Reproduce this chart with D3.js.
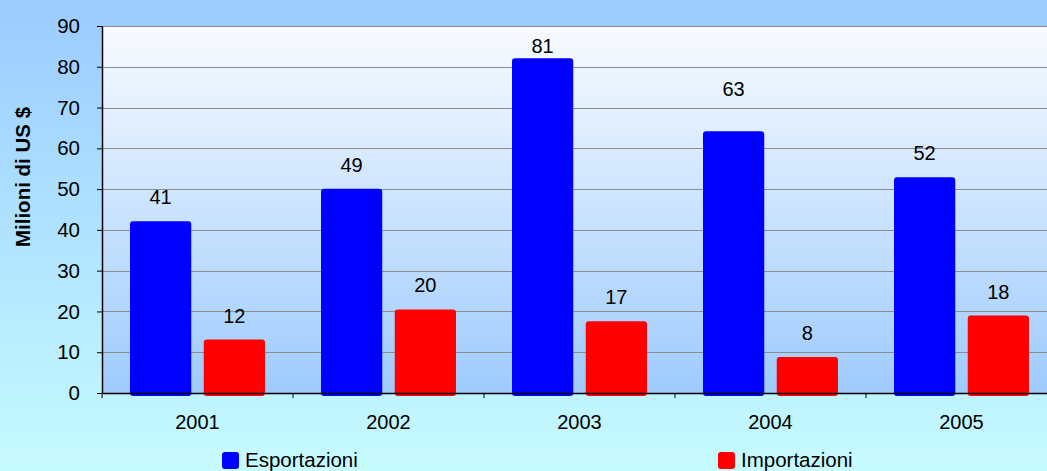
<!DOCTYPE html>
<html>
<head>
<meta charset="utf-8">
<script src="https://cdn.jsdelivr.net/npm/d3@7"></script>
<style>
  body { margin: 0; padding: 0; overflow: hidden; }
  svg { display: block; font-family: "Liberation Sans", Arial, sans-serif; }
</style>
</head>
<body>
<div id="chart"></div>
<script>
// data
var anni = ['2001', '2002', '2003', '2004', '2005'];
var esportazioni = [42.1, 50.1, 82.1, 64.2, 52.9];
var importazioni = [13.1, 20.5, 17.6, 8.8, 19.0];
// printed data labels
var etichetteEsp = ['41', '49', '81', '63', '52'];
var etichetteImp = ['12', '20', '17', '8', '18'];
var yTicks = [0, 10, 20, 30, 40, 50, 60, 70, 80, 90];
var serie = ['Esportazioni', 'Importazioni'];
var colori = ['#0000ff', '#ff0000'];

var width = 1047, height = 471;
var margin = {top: 26, left: 102, bottom: 78};
var plot_w = 955,
    plot_h = height - margin.top - margin.bottom;

var svg = d3.select('#chart').append('svg')
    .attr('width', width)
    .attr('height', height);

var defs = svg.append('defs');
var bgGrad = defs.append('linearGradient').attr('id', 'bg')
    .attr('x1', 0).attr('y1', 0).attr('x2', 0).attr('y2', 1);
bgGrad.append('stop').attr('offset', '0%').attr('stop-color', '#9bcbff');
bgGrad.append('stop').attr('offset', '100%').attr('stop-color', '#c6fbff');

var plotGrad = defs.append('linearGradient').attr('id', 'plotbg')
    .attr('x1', 0).attr('y1', 0).attr('x2', 0).attr('y2', 1);
plotGrad.append('stop').attr('offset', '0%').attr('stop-color', '#f8fbff');
plotGrad.append('stop').attr('offset', '100%').attr('stop-color', '#9ecbfd');

svg.append('rect')
    .attr('width', width).attr('height', height)
    .attr('fill', 'url(#bg)');

var chart = svg.append('g')
    .attr('transform', 'translate(' + margin.left + ',' + margin.top + ')');

var xScale = d3.scaleBand()
    .range([0, plot_w])
    .domain(anni);

var half = xScale.bandwidth() / 2;
var xInner = d3.scaleBand()
    .domain(serie)
    .range([half - 67.5, half + 67.5])
    .paddingInner(12.5 / 73.8);

var yScale = d3.scaleLinear()
    .range([plot_h, 0])
    .domain([0, 90]);

chart.append('rect')
    .attr('width', plot_w).attr('height', plot_h)
    .attr('fill', 'url(#plotbg)');

// grid
chart.append('g')
    .selectAll('line')
    .data(yTicks.filter(function(t) { return t > 0; }))
    .enter().append('line')
    .attr('x1', 0).attr('x2', plot_w)
    .attr('y1', function(t) { return Math.round(yScale(t)) + 0.5; })
    .attr('y2', function(t) { return Math.round(yScale(t)) + 0.5; })
    .attr('stroke', '#8c8c8c')
    .attr('stroke-width', 1);

// bars
var dati = anni.map(function(a, i) {
  return {anno: a, valori: [
    {anno: a, serie: serie[0], v: esportazioni[i], lab: etichetteEsp[i]},
    {anno: a, serie: serie[1], v: importazioni[i], lab: etichetteImp[i]}
  ]};
});

var groups = chart.selectAll('.anno')
    .data(dati)
    .enter().append('g')
    .attr('class', 'anno')
    .attr('transform', function(d) { return 'translate(' + xScale(d.anno) + ',0)'; });

groups.selectAll('rect')
    .data(function(d) { return d.valori; })
    .enter().append('rect')
    .attr('x', function(d) { return xInner(d.serie); })
    .attr('width', xInner.bandwidth())
    .attr('y', function(d) { return yScale(d.v); })
    .attr('height', function(d) { return plot_h - yScale(d.v) + 3; })
    .attr('rx', 3)
    .attr('fill', function(d, i) { return colori[i]; });

// value labels (63 and 81 sit a bit differently in the original)
var nudge = {'2004': -18, '2003': 12};
groups.selectAll('text')
    .data(function(d) { return d.valori; })
    .enter().append('text')
    .attr('x', function(d) { return xInner(d.serie) + xInner.bandwidth() / 2; })
    .attr('y', function(d) {
      var extra = d.serie === serie[0] && nudge[d.anno] ? nudge[d.anno] : 0;
      return yScale(d.v) - 17 + extra;
    })
    .attr('text-anchor', 'middle')
    .attr('font-size', '20px')
    .attr('fill', '#000')
    .text(function(d) { return d.lab; });

// plot top border
chart.append('line')
    .attr('x1', 0).attr('x2', plot_w)
    .attr('y1', 0.5).attr('y2', 0.5)
    .attr('stroke', '#8c8c8c');

// y axis
var yAxis = chart.append('g')
    .call(d3.axisLeft(yScale).tickValues(yTicks).tickSize(5).tickSizeOuter(0).tickPadding(17));
yAxis.select('.domain').attr('stroke', '#000').attr('stroke-width', 1.5);
yAxis.selectAll('.tick line').attr('stroke', '#000');
yAxis.selectAll('.tick text')
    .attr('font-size', '20.5px')
    .attr('font-family', '"Liberation Sans", Arial, sans-serif')
    .attr('fill', '#000');

// x axis
var xAxis = chart.append('g')
    .attr('transform', 'translate(0,' + plot_h + ')')
    .call(d3.axisBottom(xScale).tickSize(0).tickPadding(22));
xAxis.select('.domain').attr('stroke', '#000').attr('stroke-width', 1.5);
xAxis.selectAll('.tick text')
    .attr('font-size', '20px')
    .attr('font-family', '"Liberation Sans", Arial, sans-serif')
    .attr('fill', '#000');
xAxis.selectAll('.sep')
    .data(anni)
    .enter().append('line')
    .attr('class', 'sep')
    .attr('x1', function(a) { return xScale(a); })
    .attr('x2', function(a) { return xScale(a); })
    .attr('y1', 0).attr('y2', 5)
    .attr('stroke', '#000');

// y title
svg.append('text')
    .attr('transform', 'translate(30,' + 177 + ') rotate(-90)')
    .attr('text-anchor', 'middle')
    .attr('font-size', '20.5px')
    .attr('font-weight', 'bold')
    .attr('fill', '#000')
    .text('Milioni di US $');

// legend
var legendX = [222, 718];
var legend = svg.selectAll('.legend')
    .data(serie)
    .enter().append('g')
    .attr('class', 'legend')
    .attr('transform', function(d, i) { return 'translate(' + legendX[i] + ',452)'; });
legend.append('rect')
    .attr('width', 17).attr('height', 17)
    .attr('rx', 3)
    .attr('fill', function(d, i) { return colori[i]; });
legend.append('text')
    .attr('x', 23).attr('y', 15)
    .attr('font-size', '20.5px')
    .attr('fill', '#000')
    .text(function(d) { return d; });
</script>
</body>
</html>
